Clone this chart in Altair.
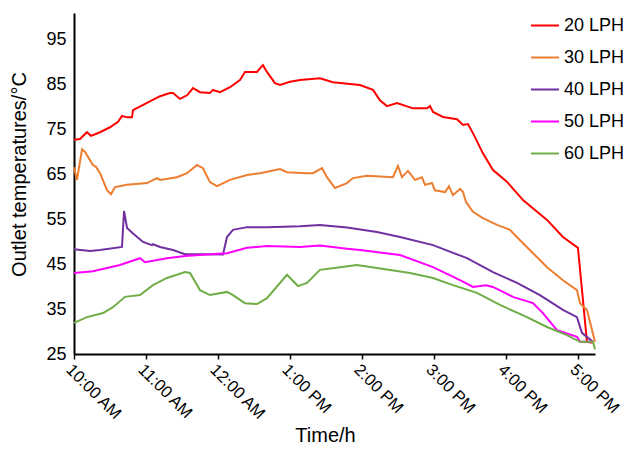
import json
import altair as alt
import pandas as pd

series = ["20 LPH", "30 LPH", "40 LPH", "50 LPH", "60 LPH"]
colors = ["#FF0000", "#ED7D31", "#7030A0", "#FF00FF", "#70AD47"]
tick_minutes = [0, 60, 120, 180, 240, 300, 360, 420]
tick_labels = ["10:00 AM", "11:00 AM", "12:00 AM", "1:00 PM", "2:00 PM",
               "3:00 PM", "4:00 PM", "5:00 PM"]
y_ticks = [25, 35, 45, 55, 65, 75, 85, 95]

# minutes after 10:00 AM, outlet temperature (deg C)
t20 = [0, 5, 10.8, 14.2, 21.7, 30, 36.7, 40, 44.2, 48.3, 49.2, 60.8, 71.7, 80, 82.5,
       88.3, 94.2, 99.2, 105, 113.3, 115.8, 121.7, 130, 138.3, 142.5, 152.5, 155, 157.5,
       160.8, 167.5, 171.7, 180, 188.3, 205, 215.8, 238.3, 249.2, 255, 260.8, 269.2,
       282.5, 294.2, 296.7, 299.2, 307.5, 319.2, 324.2, 328.3, 332.5, 340.8, 349.2,
       360.8, 374.2, 394.2, 407.5, 420, 427.5, 432.5]
v20 = [72.6, 72.8, 74.3, 73.5, 74.3, 75.4, 76.6, 77.9, 77.6, 77.6, 79.2, 80.8, 82.3, 83, 83,
       81.7, 82.5, 84.1, 83.2, 83, 83.7, 83.2, 84.3, 85.9, 87.7, 87.7, 88.5, 89.2,
       87.7, 85.2, 84.8, 85.5, 85.9, 86.3, 85.4, 84.8, 83.7, 81.4, 80.1, 80.8,
       79.6, 79.6, 80.1, 78.8, 77.7, 77.2, 75.9, 76.1, 74.1, 69.6, 65.9,
       63.3, 59.2, 54.8, 51, 48.6, 27.7, 27.5]

t30 = [0, 2.5, 6.7, 9.2, 13.3, 15.8, 18.3, 21.7, 27.5, 30.8, 34.2, 44.2, 60.8, 69.2, 71.7,
       85.8, 94.2, 102.5, 107.5, 113.3, 119.2, 130, 144.2, 155, 171.7, 177.5, 194.2,
       199.2, 206.7, 210.8, 217.5, 227.5, 232.5, 244.2, 265.8, 270, 273.3, 278.3, 284.2,
       290, 292.5, 298.3, 300.8, 309.2, 312.5, 315.8, 321.7, 324.2, 326.7, 332.5, 340.8,
       352.5, 357.5, 363.3, 371.7, 382.5, 388.3, 394.2, 407.5, 419.2, 421.7, 427.5, 434.2]
v30 = [66.5, 63.7, 70.5, 69.9, 68.1, 67, 66.6, 65.2, 61.4, 60.5, 62.1, 62.6, 63, 64.1, 63.7,
       64.3, 65.2, 67, 66.3, 63.2, 62.3, 63.7, 64.8, 65.2, 66.1, 65.4, 65.2,
       65.2, 66.3, 64.3, 61.9, 63, 64.1, 64.6, 64.3, 66.8, 64.3, 65.7, 63.7,
       64.3, 62.6, 63, 61.4, 61, 62.3, 60.3, 61.7, 61, 58.8, 56.6, 55.2,
       53.7, 53.2, 52.6, 50.3, 47.4, 45.9, 44.3, 41.4, 39.2, 36.3, 34.8, 27.7]

t40 = [0, 13.3, 21.7, 40, 41.7, 44.2, 49.2, 57.5, 65, 65.8, 71.7, 82.5, 92.5, 105, 124.2,
       127.5, 132.5, 144.2, 160.8, 188.3, 205, 227.5, 252.5, 271.7, 299.2, 327.5, 349.2,
       369.2, 388.3, 407.5, 419.2, 423.3, 432.5]
v40 = [48.3, 47.9, 48.1, 48.8, 56.8, 53, 51.8, 49.9, 49.2, 49.4, 48.8, 48.1, 47.2, 47.2, 47.1,
       51, 52.6, 53.2, 53.2, 53.4, 53.7, 53.1, 52.1, 51, 49.2, 46.3, 43.2,
       40.8, 38.1, 34.8, 33.2, 29.7, 27.7]

t50 = [0, 15.8, 38.3, 55, 59.2, 77.5, 92.5, 105, 127.5, 144.2, 160.8, 188.3, 205, 227.5,
       238.3, 271.7, 299.2, 321.7, 332.5, 343.3, 349.2, 365.8, 382.5, 390.8, 402.5, 419.2,
       421.7, 432.5]
v50 = [43, 43.4, 44.8, 46.3, 45.4, 46.3, 46.8, 47, 47.4, 48.6, 49, 48.8, 49.1, 48.4,
       48.1, 47, 44.3, 41.4, 39.9, 40.3, 39.9, 37.7, 36.3, 34.1, 30.3, 28.8,
       27.7, 27.7]

t60 = [0, 10.8, 24.2, 32.5, 42.5, 55, 65.8, 77.5, 92.5, 96.7, 105, 113.3, 127.5, 132.5,
       142.5, 152.5, 160.8, 177.5, 186.7, 194.2, 205, 221.7, 235.8, 252.5, 280, 299.2,
       315.8, 335.8, 355, 377.5, 394.2, 410.8, 421.7, 432.5, 434.2]
v60 = [31.9, 33.2, 34.1, 35.4, 37.7, 38.1, 40.3, 41.9, 43.2, 43, 39.2, 38.1, 38.8, 38.1,
       36.3, 36.1, 37.4, 42.6, 40.1, 40.8, 43.7, 44.3, 44.8, 44.1, 43, 41.9,
       40.3, 38.6, 35.9, 33.2, 31, 29.2, 27.7, 27.7, 26]

rows = []
for name, ts, vs in zip(series, [t20, t30, t40, t50, t60], [v20, v30, v40, v50, v60]):
    for t, v in zip(ts, vs):
        rows.append({"series": name, "t": t, "v": v})
df = pd.DataFrame(rows)

FONT = "Liberation Sans"
label_expr = json.dumps(tick_labels) + "[round(datum.value / 60)]"

chart = alt.Chart(df).mark_line(strokeWidth=2).encode(
    x=alt.X("t:Q",
            scale=alt.Scale(domain=[0, 434.2], nice=False, zero=False),
            axis=alt.Axis(values=tick_minutes, labelExpr=label_expr, title="Time/h",
                          labelAngle=45, labelAlign="left", labelBaseline="top",
                          labelFont=FONT, labelFontSize=16.5, labelColor="black",
                          labelPadding=2, labelOverlap=False, labelFlush=False,
                          tickSize=5, tickWidth=1.5, tickColor="black",
                          domainColor="black", domainWidth=2, grid=False,
                          titleFont=FONT, titleFontSize=20, titleFontWeight="normal",
                          titleColor="black", titleX=251, titleY=87,
                          titleBaseline="alphabetic")),
    y=alt.Y("v:Q",
            scale=alt.Scale(domain=[25, 100.8], nice=False, zero=False),
            axis=alt.Axis(values=y_ticks, title="Outlet temperatures/\u00b0C",
                          labelFont=FONT, labelFontSize=18, labelColor="black",
                          labelPadding=8, ticks=False, tickSize=0,
                          domainColor="black", domainWidth=2, grid=False,
                          titleFont=FONT, titleFontSize=20, titleFontWeight="normal",
                          titleColor="black", titleX=-55, titleY=161,
                          titleBaseline="middle")),
    color=alt.Color("series:N",
                    scale=alt.Scale(domain=series, range=colors),
                    legend=alt.Legend(orient="none", legendX=456, legendY=-2.5, title=None,
                                      symbolType="stroke", symbolSize=784,
                                      symbolStrokeWidth=2, labelFont=FONT,
                                      labelFontSize=18, labelColor="black",
                                      labelOffset=4, rowPadding=8.0, padding=0)),
).properties(
    width=521, height=341,
    autosize=alt.AutoSizeParams(type="none"),
    padding={"left": 66, "top": 5, "right": 28, "bottom": 92},
).configure_view(stroke=None)

chart.save("out.html", embed_options={"renderer": "svg", "actions": False})
